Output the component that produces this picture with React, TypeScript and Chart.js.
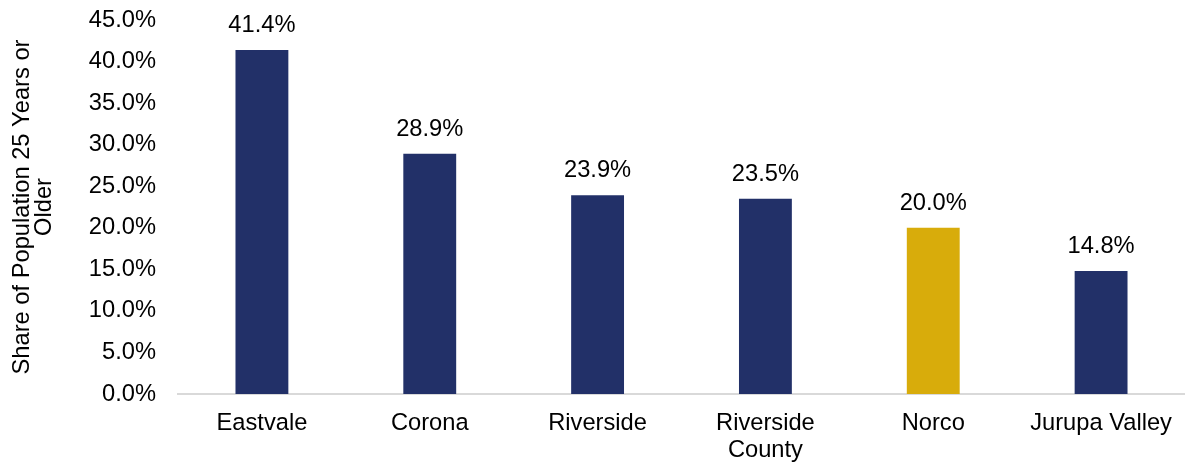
import React, { useEffect, useRef } from "react";
import { Chart, registerables } from "chart.js";

Chart.register(...registerables);

const categories: (string | string[])[] = [
  "Eastvale",
  "Corona",
  "Riverside",
  ["Riverside", "County"],
  "Norco",
  "Jurupa Valley",
];
const shareValues = [41.4, 28.9, 23.9, 23.5, 20.0, 14.8];
const barColors = ["#223068", "#223068", "#223068", "#223068", "#D8AC0B", "#223068"];
const yTitle = ["Share of Population 25 Years or", "Older"];

const FONT = "'Liberation Sans', Arial, sans-serif";
const FS = 23.7;

const valueLabels = {
  id: "valueLabels",
  afterDatasetsDraw(chart: any) {
    const ctx = chart.ctx;
    const meta = chart.getDatasetMeta(0);
    ctx.save();
    ctx.font = `${FS}px ${FONT}`;
    ctx.fillStyle = "#000";
    ctx.textAlign = "center";
    ctx.textBaseline = "alphabetic";
    meta.data.forEach((bar: any, i: number) => {
      ctx.fillText(shareValues[i].toFixed(1) + "%", bar.x, bar.y - 18);
    });
    ctx.restore();
  },
};

export default function App() {
  const ref = useRef<HTMLCanvasElement>(null);
  useEffect(() => {
    document.body.style.margin = "0";
    const chart = new Chart(ref.current!, {
      type: "bar",
      data: {
        labels: categories as any,
        datasets: [
          {
            data: shareValues,
            backgroundColor: barColors,
            barPercentage: 0.315,
            categoryPercentage: 1,
          },
        ],
      },
      options: {
        responsive: false,
        animation: false,
        layout: { padding: { top: 20, right: 0, left: 0, bottom: 0 } },
        plugins: { legend: { display: false }, tooltip: { enabled: false } },
        scales: {
          x: {
            afterFit: (s: any) => {
              s.height = 69;
              s.paddingLeft = 0;
              s.paddingRight = 0;
            },
            grid: { display: false, drawTicks: false },
            border: { display: true, color: "#d9d9d9", width: 2 },
            ticks: {
              color: "#000",
              font: { family: FONT, size: FS, lineHeight: 1.15 },
              padding: 16,
              maxRotation: 0,
              autoSkip: false,
            },
          },
          y: {
            min: 0,
            max: 45,
            afterFit: (s: any) => {
              s.width = 178;
              s.paddingTop = 0;
              s.paddingBottom = 0;
            },
            grid: { display: false, drawTicks: false },
            border: { display: false },
            ticks: {
              stepSize: 5,
              color: "#000",
              font: { family: FONT, size: FS },
              padding: 22,
              callback: (v: any) => Number(v).toFixed(1) + "%",
            },
            title: {
              display: true,
              text: yTitle,
              color: "#000",
              font: { family: FONT, size: FS, lineHeight: 0.9 },
              padding: { top: 12, bottom: 0 },
            },
          },
        },
      },
      plugins: [valueLabels],
    });
    return () => chart.destroy();
  }, []);
  return (
    <div style={{ width: 1185, height: 463 }}>
      <canvas ref={ref} width={1185} height={463} />
    </div>
  );
}
